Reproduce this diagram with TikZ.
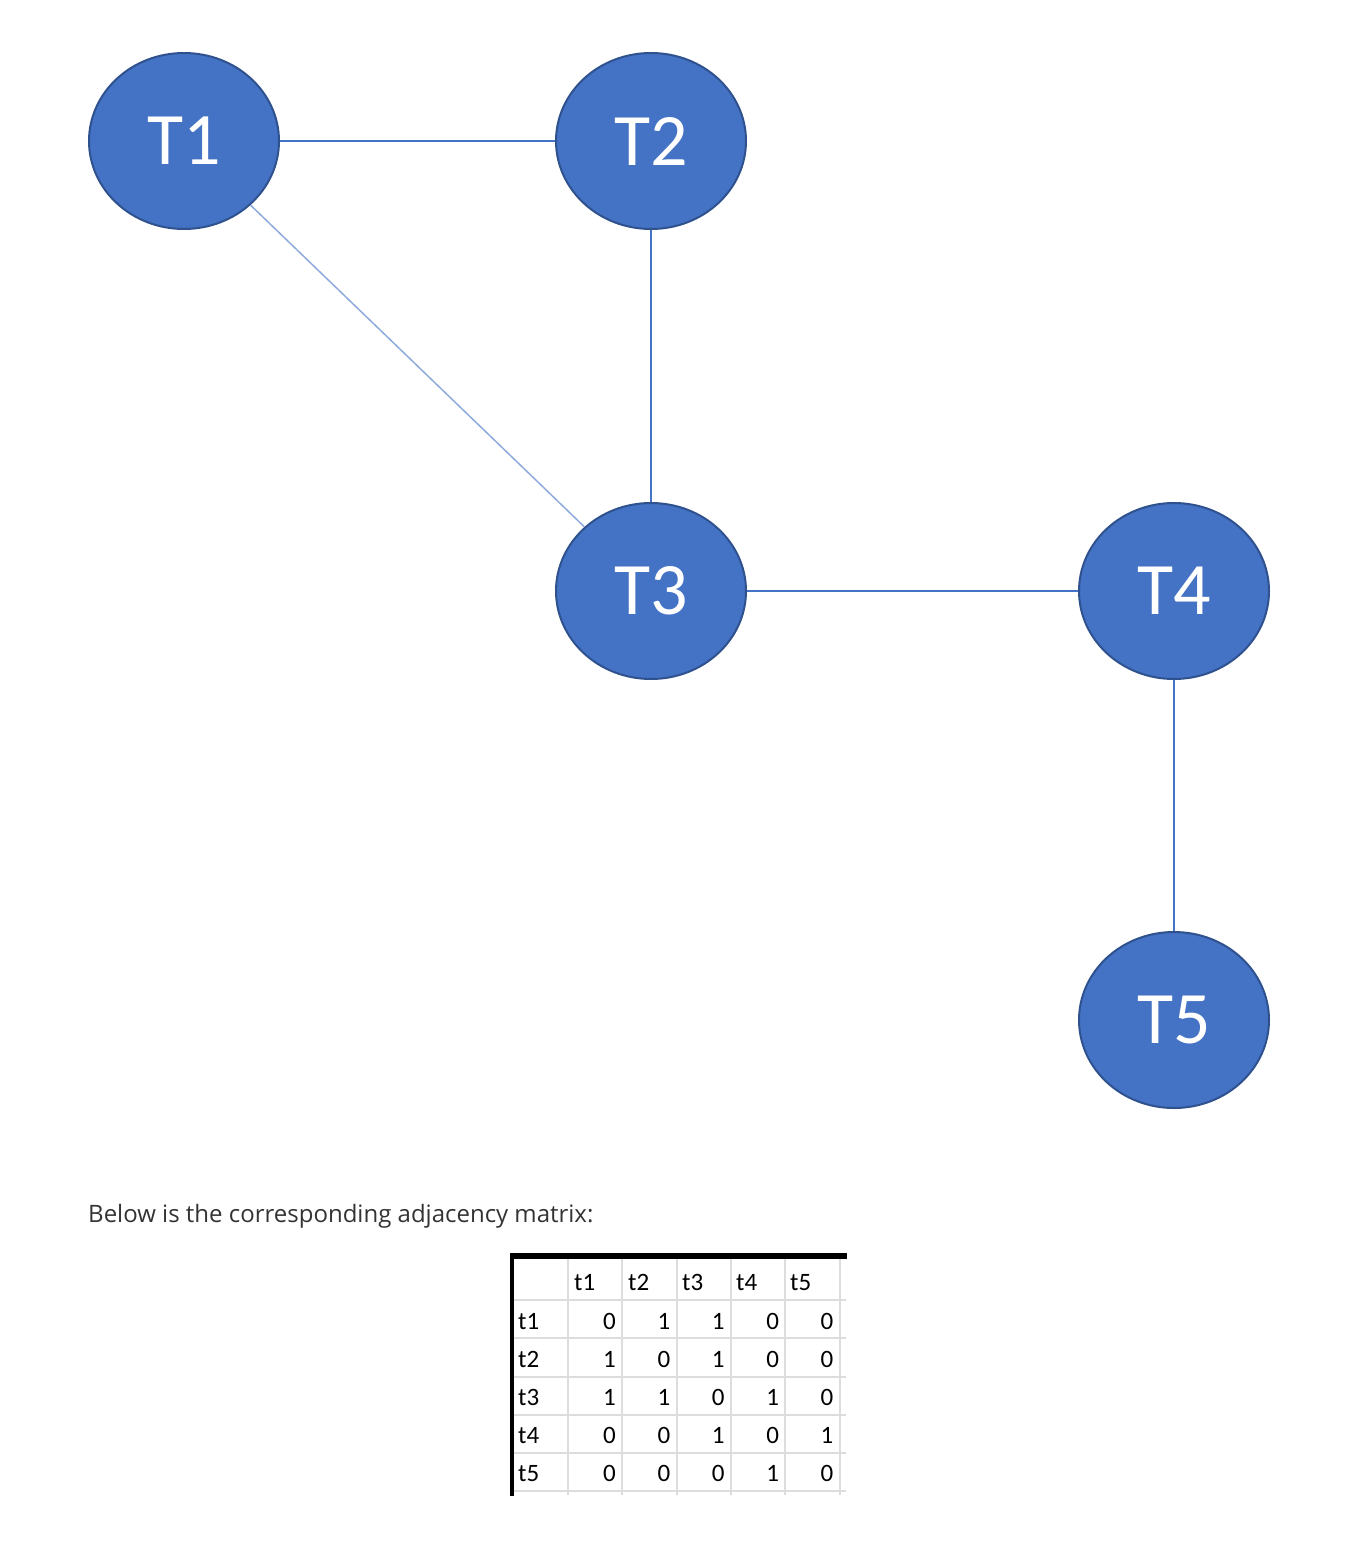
\documentclass[tikz,border=0pt]{standalone}
\usepackage{fontspec}
\setmainfont{Open Sans}
\newfontfamily\calibri{Carlito}
\usetikzlibrary{shapes.geometric}

\definecolor{nodeblue}{HTML}{4472C4}
\definecolor{nodeedge}{HTML}{2F528F}
\definecolor{lightedge}{HTML}{8FAADC}
\definecolor{captiongray}{HTML}{333333}
\definecolor{gridgray}{HTML}{DDDDDD}

\tikzset{
  tnode/.style={ellipse,fill=nodeblue,draw=nodeedge,line width=2pt,
    minimum width=190pt,minimum height=176pt,inner sep=0pt,
    text=white,font=\calibri\fontsize{74}{74}\selectfont},
  link/.style={draw=nodeblue,line width=1.5pt},
  cell/.style={font=\calibri\fontsize{25}{25}\selectfont,inner sep=0pt}
}

\begin{document}
\begin{tikzpicture}[x=1pt,y=-1pt]

\useasboundingbox (0,0) rectangle (1344,1568);

% graph
\node[tnode] (T1) at (184,141) {T1};
\node[tnode] (T2) at (651,141) {T2};
\node[tnode] (T3) at (651,591) {T3};
\node[tnode] (T4) at (1174,591) {T4};
\node[tnode] (T5) at (1174,1020) {T5};

\draw[link] (T1) -- (T2);
\draw[link] (T2) -- (T3);
\draw[link] (T3) -- (T4);
\draw[link] (T4) -- (T5);
\draw[draw=lightedge,line width=1.5pt] (T1) -- (T3);

% caption
\node[anchor=base west,inner sep=0pt,text=captiongray,font=\fontsize{24}{24}\selectfont] (caption) at (88,1222) {Below is the corresponding adjacency matrix:};

% adjacency matrix
\foreach \x in {568,622,677,731,785,840}
  \draw[gridgray,line width=1.5pt] (\x,1258) -- (\x,1495);
\foreach \y in {1300,1338,1377,1415,1453,1491}
  \draw[gridgray,line width=1.5pt] (512,\y) -- (846,\y);
\fill[black] (511,1253) rectangle (847,1259);
\fill[black] (510,1253) rectangle (514,1496);

\foreach \c/\x in {1/574,2/628,3/682,4/736,5/790}
  \node[cell,anchor=base west] (h\c) at (\x,1290) {t\c};

\foreach \r/\y in {1/1329,2/1367,3/1405,4/1443,5/1481}{
  \node[cell,anchor=base west] (r\r) at (518,\y) {t\r};
}

\foreach \v [count=\i from 0] in {0,1,1,0,0, 1,0,1,0,0, 1,1,0,1,0, 0,0,1,0,1, 0,0,0,1,0}{
  \pgfmathtruncatemacro{\row}{int(\i/5)}
  \pgfmathtruncatemacro{\col}{mod(\i,5)}
  \pgfmathsetmacro{\xx}{616+54.4*\col}
  \pgfmathsetmacro{\yy}{1329+38.1*\row}
  \node[cell,anchor=base east] (m\i) at (\xx,\yy) {\v};
}

\end{tikzpicture}
\end{document}
